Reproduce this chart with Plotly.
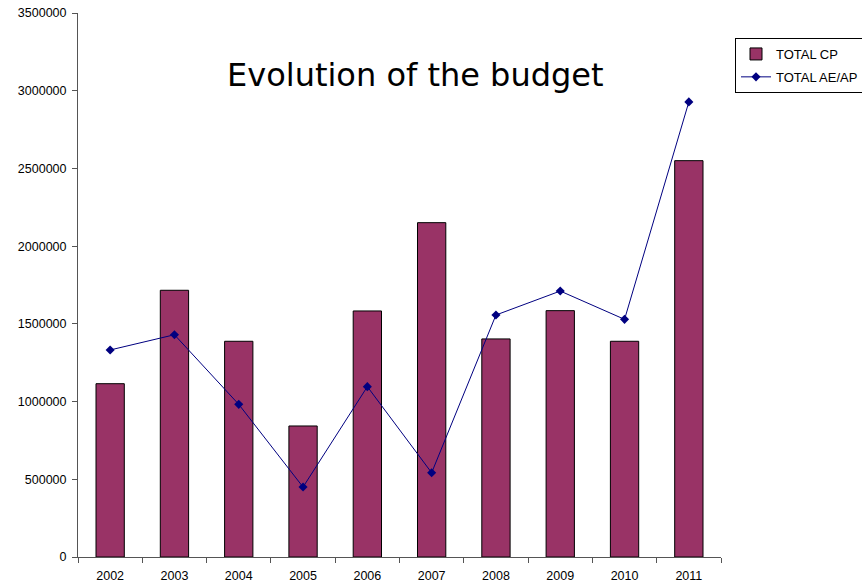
import plotly.graph_objects as go

years = ["2002", "2003", "2004", "2005", "2006", "2007", "2008", "2009", "2010", "2011"]
total_cp = [1115000, 1716000, 1388000, 843000, 1583000, 2151000, 1403000, 1585000, 1388000, 2550000]
total_ae_ap = [1332000, 1430000, 982000, 450000, 1096000, 542000, 1557000, 1711000, 1529000, 2928000]
y_ticks = [0, 500000, 1000000, 1500000, 2000000, 2500000, 3000000, 3500000]

fig = go.Figure()
fig.add_trace(go.Bar(
    x=years, y=total_cp, name="TOTAL CP", legendgroup="a",
    marker=dict(color="#993366", line=dict(color="#000000", width=1)),
    width=0.44,
))
fig.add_trace(go.Scatter(
    x=years, y=total_ae_ap, name="TOTAL AE/AP", mode="lines+markers", legendgroup="b",
    line=dict(color="#000080", width=1),
    marker=dict(symbol="diamond", size=7, color="#000080"),
))

fig.update_layout(
    width=862, height=586,
    margin=dict(l=78, r=141, t=13, b=29),
    paper_bgcolor="white", plot_bgcolor="white",
    font=dict(family="Liberation Sans, Arial", size=12.5, color="black"),
    showlegend=True,
    legend=dict(
        xref="container", yref="container",
        x=735/862, y=1-38/586, xanchor="left", yanchor="top",
        bordercolor="black", borderwidth=1, bgcolor="white",
        font=dict(family="Liberation Sans, Arial", size=13, color="black"),
        tracegroupgap=3, itemwidth=30,
    ),
    annotations=[dict(
        text="Evolution of the budget", x=(415-78)/643, y=(557-75)/544,
        xref="paper", yref="paper", showarrow=False,
        font=dict(family="DejaVu Sans", size=32, color="black"),
        xanchor="center", yanchor="middle",
    )],
)

fig.update_xaxes(
    type="category", range=[-0.5, 9.5], automargin=False,
    showline=True, linecolor="#555555", linewidth=1,
    ticks="outside", tickson="boundaries", ticklen=5, tickcolor="#555555",
    ticklabelstandoff=7,
    showgrid=False, zeroline=False,
)
fig.update_yaxes(
    range=[0, 3500000], tickvals=y_ticks, ticktext=[str(v) for v in y_ticks],
    automargin=False,
    showline=True, linecolor="#555555", linewidth=1,
    ticks="outside", ticklen=5, tickcolor="#555555",
    ticklabelstandoff=3,
    showgrid=False, zeroline=False,
)

fig.write_html("out.html")
